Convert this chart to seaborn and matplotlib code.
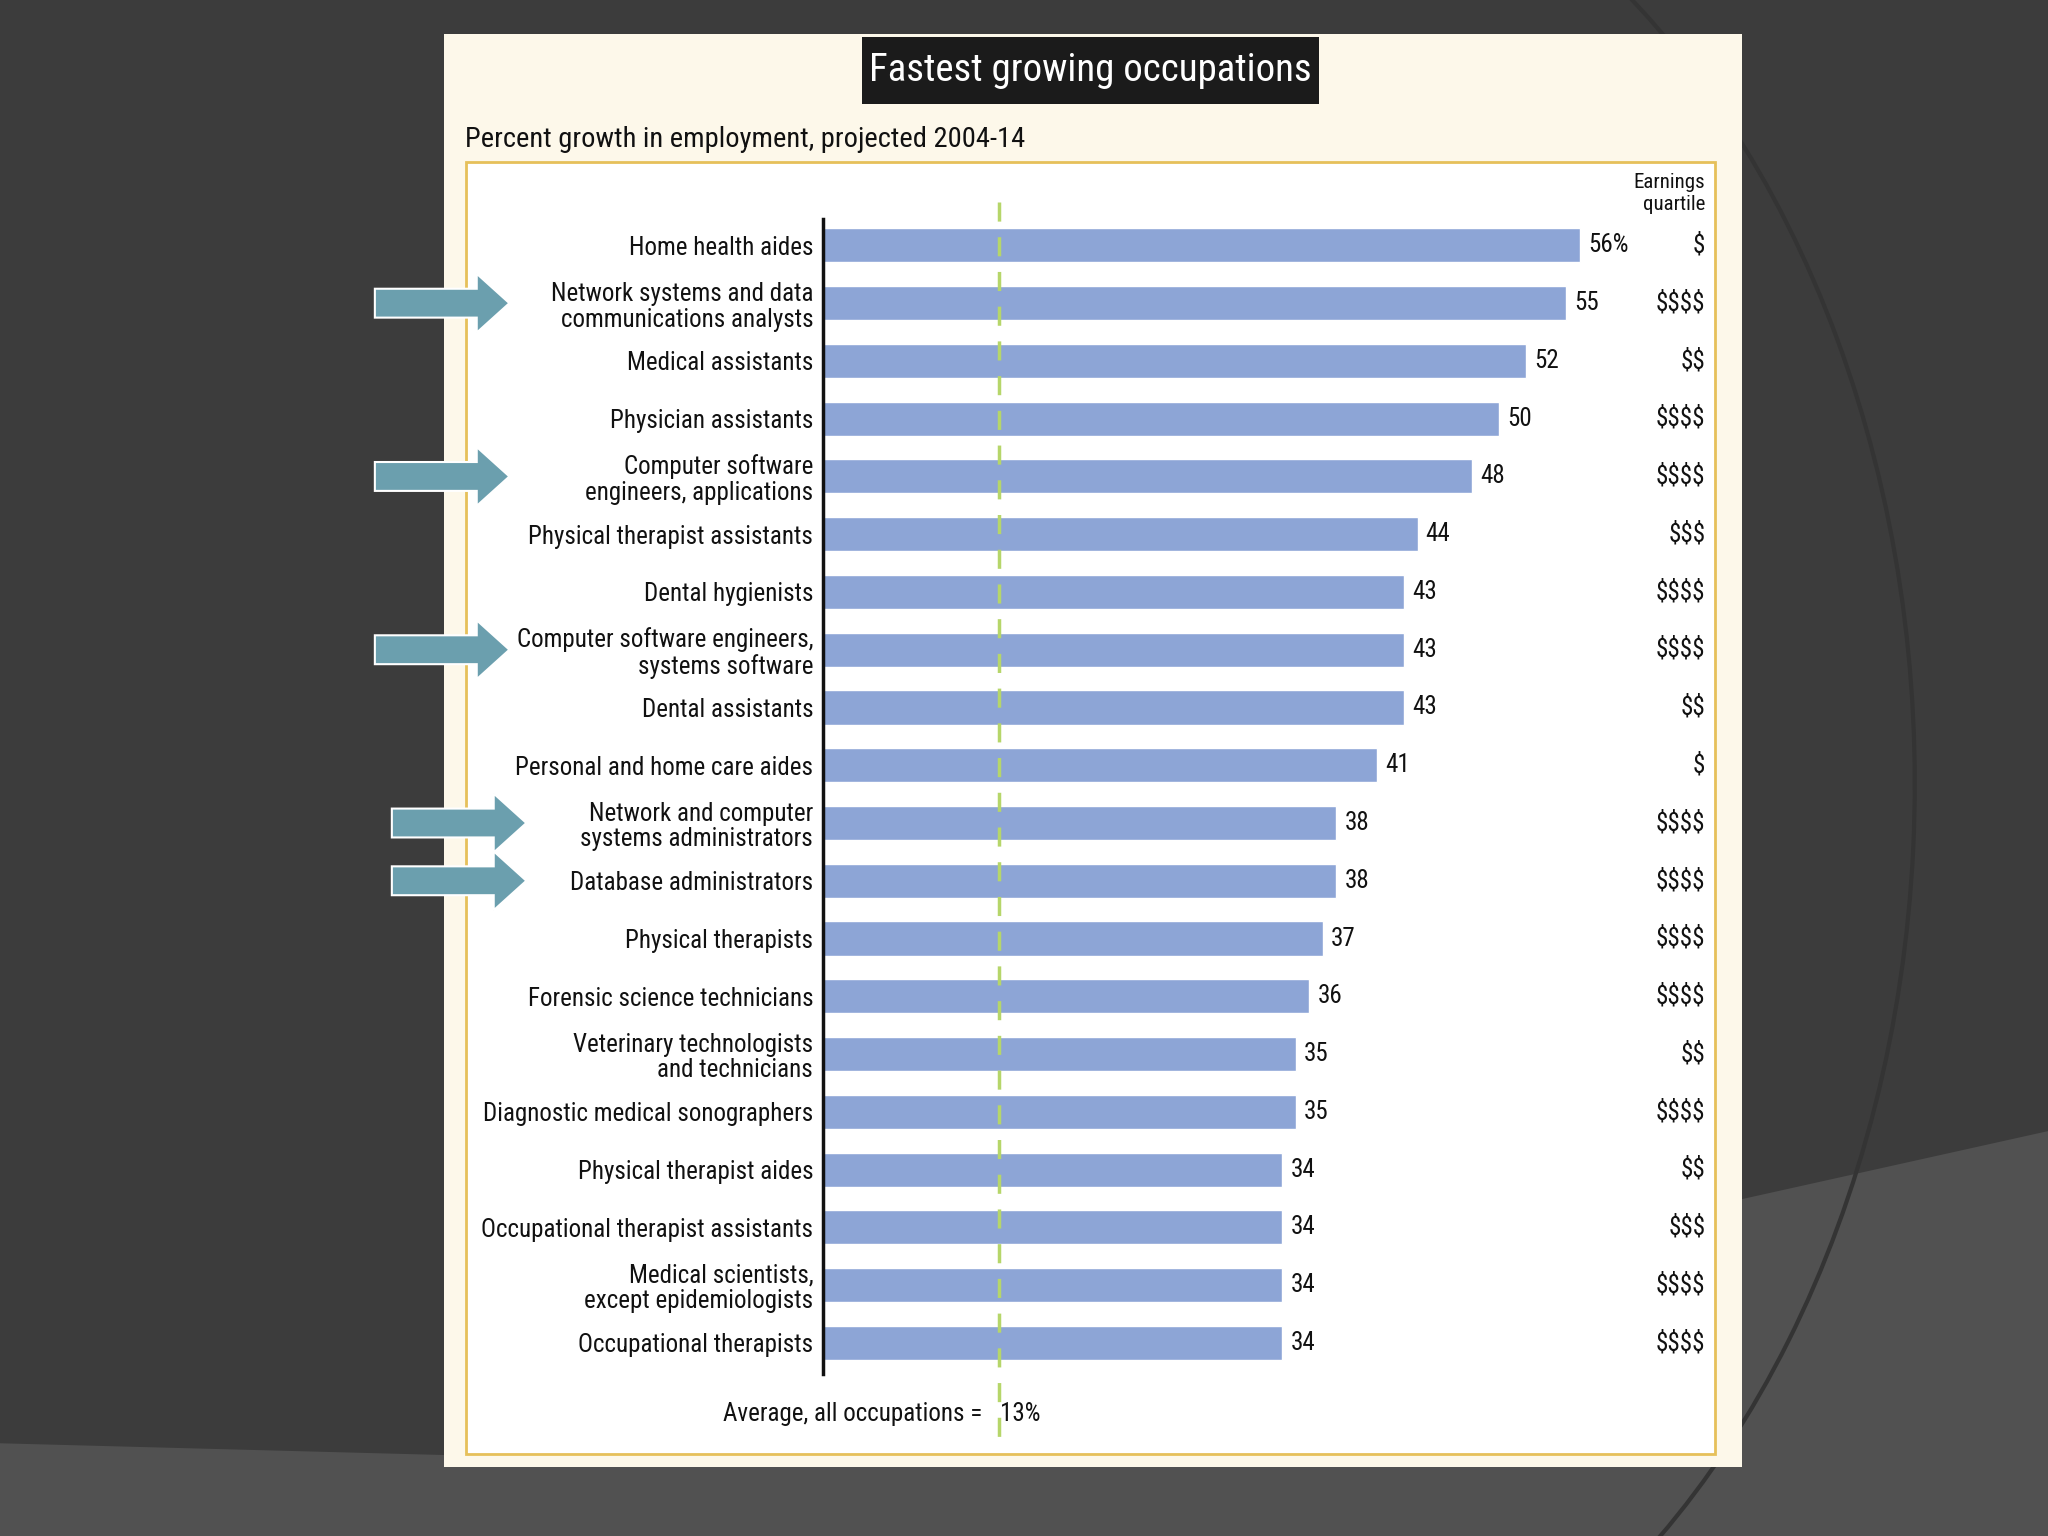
import matplotlib
matplotlib.use("Agg")
import matplotlib.pyplot as plt
import matplotlib.patches as mpatches
import matplotlib.transforms as mtransforms
import seaborn as sns

occupations = [
    "Home health aides",
    "Network systems and data\ncommunications analysts",
    "Medical assistants",
    "Physician assistants",
    "Computer software\nengineers, applications",
    "Physical therapist assistants",
    "Dental hygienists",
    "Computer software engineers,\nsystems software",
    "Dental assistants",
    "Personal and home care aides",
    "Network and computer\nsystems administrators",
    "Database administrators",
    "Physical therapists",
    "Forensic science technicians",
    "Veterinary technologists\nand technicians",
    "Diagnostic medical sonographers",
    "Physical therapist aides",
    "Occupational therapist assistants",
    "Medical scientists,\nexcept epidemiologists",
    "Occupational therapists",
]
growth = [56, 55, 52, 50, 48, 44, 43, 43, 43, 41, 38, 38, 37, 36, 35, 35, 34, 34, 34, 34]
earnings = ["$", "$$$$", "$$", "$$$$", "$$$$", "$$$", "$$$$", "$$$$", "$$", "$",
            "$$$$", "$$$$", "$$$$", "$$$$", "$$", "$$$$", "$$", "$$$", "$$$$", "$$$$"]
highlighted = [1, 4, 7, 10, 11]   # IT occupations marked with arrows
average_growth = 13

sns.set_theme(style="white")
plt.rcParams["font.family"] = ["Roboto Condensed", "Roboto", "DejaVu Sans"]

W, H = 1568, 1176  # layout measured on the slide
INK = "#111111"


def fx(x):
    return x / W


def fy(y):
    return 1 - y / H


fig = plt.figure(figsize=(20.48, 15.36), dpi=100)
fig.patch.set_facecolor("#3c3c3c")

# slide background decoration
fig.add_artist(mpatches.Polygon(
    [(fx(0), fy(1105)), (fx(340), fy(1114)), (fx(1334), fy(918)), (fx(1568), fy(866)),
     (fx(1568), fy(1176)), (fx(0), fy(1176))],
    closed=True, transform=fig.transFigure, facecolor="#515151", edgecolor="none", zorder=-20))
fig.add_artist(mpatches.Arc(
    (fx(900), fy(600)), 2 * 566 / W, 2 * 763 / H, theta1=-75, theta2=70,
    transform=fig.transFigure, edgecolor="#343434", lw=3, zorder=-19))

# cream panel and white inner box
fig.add_artist(mpatches.Rectangle(
    (fx(340), fy(1123)), (1334 - 340) / W, (1123 - 26) / H, transform=fig.transFigure,
    facecolor="#fdf8ea", edgecolor="none", zorder=-10))
fig.add_artist(mpatches.Rectangle(
    (fx(357), fy(1113)), (1313 - 357) / W, (1113 - 124) / H, transform=fig.transFigure,
    facecolor="white", edgecolor="#e6c05a", lw=2, zorder=-9))

# title box
fig.add_artist(mpatches.Rectangle(
    (fx(660), fy(80)), (1010 - 660) / W, (80 - 28) / H, transform=fig.transFigure,
    facecolor="#1b1b1b", edgecolor="none", zorder=-8))
fig.text(fx(835), fy(54), "Fastest growing occupations", color="white",
         fontsize=28, ha="center", va="center")
fig.text(fx(356), fy(107), "Percent growth in employment, projected 2004-14", color=INK,
         fontsize=20.5, ha="left", va="center")

# bar chart
ax = fig.add_axes([fx(630), fy(1052), (1313 - 630) / W, (1052 - 168) / H])
ax.patch.set_visible(False)
sns.barplot(x=growth, y=occupations, orient="h", color="#8da5d6", width=0.59,
            saturation=1, ax=ax)
ax.set_xlim(0, 66)
ax.set_ylim(19.54, -0.45)
ax.set_xlabel("")
ax.set_ylabel("")
ax.set_xticks([])
for side in ["top", "right", "bottom"]:
    ax.spines[side].set_visible(False)
ax.spines["left"].set_color("#111111")
ax.spines["left"].set_linewidth(2.5)
ax.tick_params(axis="y", length=0, pad=7)
for lbl in ax.get_yticklabels():
    lbl.set_fontsize(18)
    lbl.set_color(INK)
    lbl.set_linespacing(1.1)

for i, v in enumerate(growth):
    txt = f"{v}%" if i == 0 else str(v)
    ax.text(v + 0.6, i, txt, fontsize=18, color=INK, ha="left", va="center")
    ax.text(65.3, i, earnings[i], fontsize=18, color=INK, ha="right", va="center",
            clip_on=False, parse_math=False)

ax.text(65.3, -0.9, "Earnings\nquartile", fontsize=15, color=INK, ha="right",
        va="center", linespacing=1.2, clip_on=False)

# average line
ax.plot([average_growth, average_growth], [-0.75, 20.65], color="#b6d66a", lw=2.5,
        dashes=(5.5, 4.5), clip_on=False, zorder=3)
ax.text(average_growth - 1.2, 20.23, "Average, all occupations =", fontsize=18,
        color=INK, ha="right", va="center")
ax.text(average_growth + 0.1, 20.23, f"{average_growth}%", fontsize=18,
        color=INK, ha="left", va="center")

# arrows pointing at the IT occupations
trans = mtransforms.blended_transform_factory(fig.transFigure, ax.transData)
for k, row in enumerate(highlighted):
    x0 = 287 if k < 3 else 300
    arrow = mpatches.FancyArrow(fx(x0), row, 103 / W, 0, width=0.5, head_width=1.02,
                                head_length=25 / W, length_includes_head=True,
                                transform=trans, facecolor="#6b9fae", edgecolor="white",
                                lw=1.5, clip_on=False, zorder=5)
    fig.add_artist(arrow)

fig.savefig("out.png", dpi=100, facecolor=fig.get_facecolor())
